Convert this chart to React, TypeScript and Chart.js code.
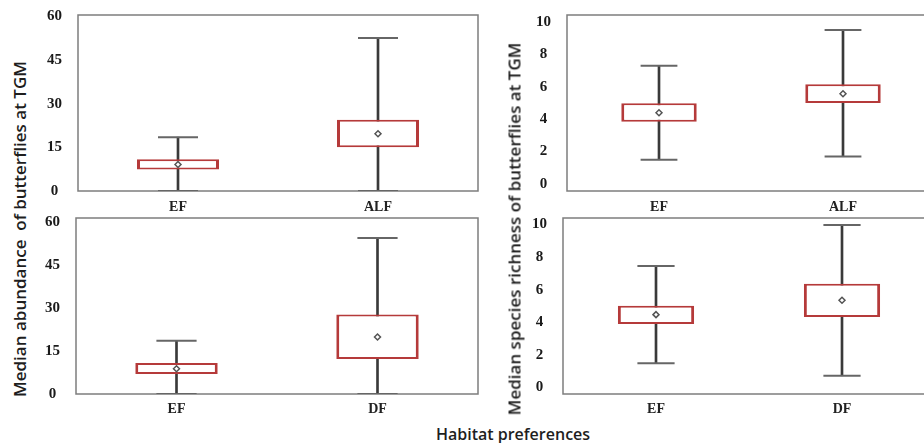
import React, { useEffect, useRef } from "react";
import { Chart, registerables } from "chart.js";

Chart.register(...registerables);

// ---- categories ----
const habitatsTop = ["EF", "ALF"];
const habitatsBottom = ["EF", "DF"];

// ---- tick labels ----
const abundanceTicks = [0, 15, 30, 45, 60];
const richnessTicks = [0, 2, 4, 6, 8, 10];

// ---- Top-left: abundance EF vs ALF ----
const abundTopMin = [0, 0];
const abundTopQ1 = [7.4, 15.0];
const abundTopMean = [9.1, 19.7];
const abundTopQ3 = [10.9, 24.5];
const abundTopMax = [18.5, 52.6];

// ---- Top-right: richness EF vs ALF ----
const richTopMin = [1.5, 1.7];
const richTopQ1 = [3.85, 5.0];
const richTopMean = [4.4, 5.57];
const richTopQ3 = [4.98, 6.15];
const richTopMax = [7.3, 9.5];

// ---- Bottom-left: abundance EF vs DF ----
const abundBotMin = [0, 0];
const abundBotQ1 = [7.0, 12.2];
const abundBotMean = [8.8, 19.9];
const abundBotQ3 = [10.8, 27.7];
const abundBotMax = [18.6, 54.4];

// ---- Bottom-right: richness EF vs DF ----
const richBotMin = [1.48, 0.72];
const richBotQ1 = [3.9, 4.33];
const richBotMean = [4.47, 5.35];
const richBotQ3 = [5.02, 6.37];
const richBotMax = [7.45, 9.97];

const Y_AXIS_W = 45;
const PAD_T = 12;
const PAD_R = 4;
const X_AXIS_H = 28;

const framePlugin = {
  id: "frame",
  beforeDatasetsDraw(chart: any) {
    const { ctx, chartArea } = chart;
    const { left, top, right, bottom } = chartArea;
    ctx.save();
    ctx.strokeStyle = "#7d7d7d";
    ctx.lineWidth = 1.5;
    ctx.strokeRect(left, top, right - left, bottom - top);
    ctx.restore();
  },
};

type PanelProps = {
  labels: string[];
  min: number[];
  q1: number[];
  mean: number[];
  q3: number[];
  max: number[];
  yMin: number;
  yMax: number;
  yTicks: number[];
  area: { l: number; t: number; r: number; b: number };
  xPad: number;
};

function Panel(props: PanelProps) {
  const ref = useRef<HTMLCanvasElement | null>(null);
  const { area } = props;
  const width = area.r - area.l + Y_AXIS_W + PAD_R;
  const height = area.b - area.t + PAD_T + X_AXIS_H;

  useEffect(() => {
    if (!ref.current) return;
    const capR = (area.r - area.l) * 0.05;
    const tickFont = { family: '"Liberation Serif", "Times New Roman", serif', weight: "bold" as const, size: 15 };
    const chart = new Chart(ref.current, {
      type: "bar",
      data: {
        labels: props.labels,
        datasets: [
          {
            type: "line",
            data: props.mean,
            showLine: false,
            pointStyle: "rectRot",
            pointRadius: 3,
            pointBackgroundColor: "#ffffff",
            pointBorderColor: "#555555",
            pointBorderWidth: 1.5,
            order: 1,
          } as any,
          {
            type: "line",
            data: props.max,
            showLine: false,
            pointStyle: "line",
            pointRadius: capR,
            pointBorderColor: "#666666",
            pointBorderWidth: 2,
            order: 2,
          } as any,
          {
            type: "line",
            data: props.min,
            showLine: false,
            pointStyle: "line",
            pointRadius: capR,
            pointBorderColor: "#666666",
            pointBorderWidth: 2,
            order: 2,
          } as any,
          {
            type: "bar",
            data: props.q1.map((v, i) => [v, props.q3[i]]),
            backgroundColor: "#ffffff",
            borderColor: "#b53a3a",
            borderWidth: { top: 2, bottom: 2, left: 3, right: 3 },
            borderSkipped: false,
            barPercentage: 0.41,
            categoryPercentage: 1,
            grouped: false,
            order: 3,
          } as any,
          {
            type: "bar",
            data: props.min.map((v, i) => [v, props.max[i]]),
            backgroundColor: "#3a3a3a",
            borderWidth: 0,
            barThickness: 2,
            grouped: false,
            order: 4,
          } as any,
        ],
      },
      options: {
        responsive: false,
        animation: false,
        devicePixelRatio: 1,
        events: [],
        layout: { autoPadding: false, padding: { top: PAD_T, right: PAD_R, left: 0, bottom: 0 } },
        plugins: { legend: { display: false }, tooltip: { enabled: false } },
        scales: {
          x: {
            grid: { display: false, drawTicks: false },
            border: { display: false },
            ticks: { font: { ...tickFont, size: 14 }, color: "#222222", padding: props.xPad },
            afterFit: (s: any) => {
              s.height = X_AXIS_H;
              s.paddingLeft = 0;
              s.paddingRight = 0;
            },
          },
          y: {
            min: props.yMin,
            max: props.yMax,
            grid: { display: false, drawTicks: false },
            border: { display: false },
            afterBuildTicks: (s: any) => {
              s.ticks = props.yTicks.map((v) => ({ value: v }));
            },
            ticks: { crossAlign: "center", padding: 16, font: tickFont, color: "#1a1a1a" },
            afterFit: (s: any) => {
              s.width = Y_AXIS_W;
              s.paddingTop = 0;
              s.paddingBottom = 0;
            },
          },
        },
      } as any,
      plugins: [framePlugin],
    });
    return () => chart.destroy();
  }, []);

  return (
    <canvas
      ref={ref}
      width={width}
      height={height}
      style={{
        position: "absolute",
        left: area.l - Y_AXIS_W,
        top: area.t - PAD_T,
        width,
        height,
      }}
    />
  );
}

const titleFont: React.CSSProperties = {
  fontFamily: '"Open Sans", sans-serif',
  fontWeight: 600,
  color: "#1e1e1e",
  whiteSpace: "nowrap",
  position: "absolute",
};

export default function App() {
  return (
    <div
      style={{
        position: "absolute",
        left: 0,
        top: 0,
        width: 924,
        height: 443,
        overflow: "hidden",
        background: "#ffffff",
      }}
    >
      <Panel
        labels={habitatsTop}
        min={abundTopMin}
        q1={abundTopQ1}
        mean={abundTopMean}
        q3={abundTopQ3}
        max={abundTopMax}
        yMin={0}
        yMax={60.5}
        yTicks={abundanceTicks}
        area={{ l: 78, t: 15, r: 478, b: 191 }}
        xPad={8}
      />
      <Panel
        labels={habitatsTop}
        min={richTopMin}
        q1={richTopQ1}
        mean={richTopMean}
        q3={richTopQ3}
        max={richTopMax}
        yMin={-0.43}
        yMax={10.43}
        yTicks={richnessTicks}
        area={{ l: 567, t: 15, r: 935, b: 191 }}
        xPad={8}
      />
      <Panel
        labels={habitatsBottom}
        min={abundBotMin}
        q1={abundBotQ1}
        mean={abundBotMean}
        q3={abundBotQ3}
        max={abundBotMax}
        yMin={0}
        yMax={61.4}
        yTicks={abundanceTicks}
        area={{ l: 76, t: 218, r: 478, b: 394 }}
        xPad={7}
      />
      <Panel
        labels={habitatsBottom}
        min={richBotMin}
        q1={richBotQ1}
        mean={richBotMean}
        q3={richBotQ3}
        max={richBotMax}
        yMin={-0.4}
        yMax={10.4}
        yTicks={richnessTicks}
        area={{ l: 563, t: 218, r: 935, b: 394 }}
        xPad={7}
      />
      <div
        style={{
          ...titleFont,
          fontSize: 17,
          left: 19,
          top: 229,
          transform: "translate(-50%, -50%) rotate(-90deg)",
        }}
      >
        Median abundance&nbsp; of butterflies at TGM
      </div>
      <div
        style={{
          ...titleFont,
          fontSize: 17,
          left: 514,
          top: 229,
          transform: "translate(-50%, -50%) rotate(-90deg)",
        }}
      >
        Median species richness of butterflies at TGM
      </div>
      <div
        style={{
          ...titleFont,
          fontSize: 16,
          left: 513,
          top: 434,
          transform: "translate(-50%, -50%)",
        }}
      >
        Habitat preferences
      </div>
    </div>
  );
}
